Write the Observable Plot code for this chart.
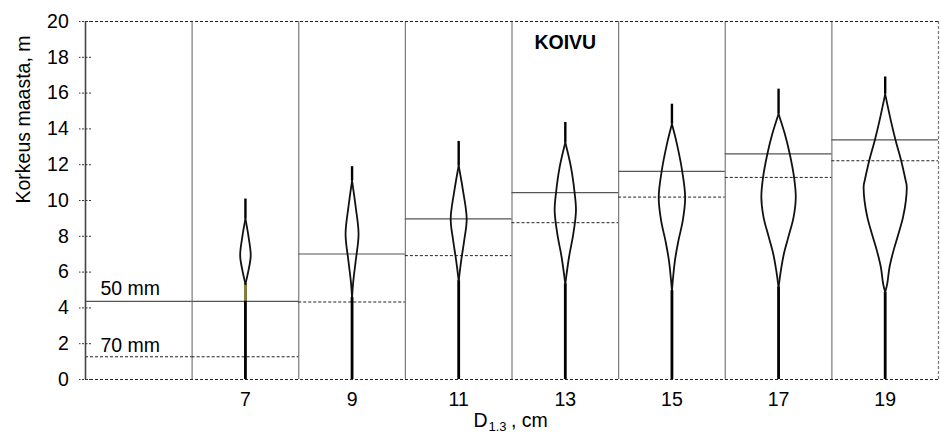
<!DOCTYPE html>
<html>
<head>
<meta charset="utf-8">
<script src="https://cdn.jsdelivr.net/npm/d3@7"></script>
<script src="https://cdn.jsdelivr.net/npm/@observablehq/plot@0.6"></script>
<style>
  html, body { margin: 0; padding: 0; background: #fff; }
  #chart svg { display: block; }
</style>
</head>
<body>
<div id="chart"></div>
<script>
// ---- data ----
const diam = [7, 9, 11, 13, 15, 17, 19];               // D1.3, cm (tree positions)
const treeTop = [10.08, 11.89, 13.3, 14.36, 15.38, 16.22, 16.9]; // tree height, m
// crown outline: heights (m) from crown top down to crown base, and half-width (x units)
const crownH = [
  [8.97, 7.94, 6.92, 6.08, 5.34],
  [11.1, 9.62, 8.13, 6.64, 5.52, 4.59],
  [11.94, 10.55, 8.97, 7.76, 6.64, 5.52],
  [13.24, 11.85, 10.44, 9.43, 8.13, 6.83, 5.34],
  [14.27, 13.15, 11.63, 10.17, 8.87, 7.76, 6.64, 4.97],
  [14.83, 13.71, 12.6, 11.29, 10.17, 9.06, 7.94, 7.01, 6.08, 5.15],
  [15.94, 14.45, 13.34, 12.22, 11.1, 10.83, 9.99, 9.06, 8.13, 7.2, 6.27, 5.34, 4.87]
];
const crownR = [
  [0, 0.060, 0.099, 0.056, 0],
  [0, 0.069, 0.122, 0.069, 0.024, 0],
  [0, 0.081, 0.15, 0.103, 0.047, 0],
  [0, 0.107, 0.174, 0.2, 0.15, 0.069, 0],
  [0, 0.094, 0.193, 0.248, 0.203, 0.122, 0.056, 0],
  [0, 0.118, 0.21, 0.291, 0.323, 0.281, 0.182, 0.099, 0.043, 0],
  [0, 0.107, 0.197, 0.3, 0.385, 0.403, 0.388, 0.334, 0.248, 0.156, 0.081, 0.038, 0]
];
// coloured stem segment (tree 7)
const oliveD = [7];
const oliveY1 = [4.37];
const oliveY2 = [5.34];
// diameter classes (panels) and top-log limits
const panelStart = [4, 6, 8, 10, 12, 14, 16, 18];
const panelEnd   = [6, 8, 10, 12, 14, 16, 18, 20];
const line50 = [4.37, 4.37, 7.01, 8.97, 10.44, 11.63, 12.6, 13.39]; // 50 mm
const line70 = [1.27, 1.27, 4.33, 6.92, 8.76, 10.19, 11.29, 12.22]; // 70 mm
const panelLines = [6, 8, 10, 12, 14, 16, 18];
const yTicks = [0, 2, 4, 6, 8, 10, 12, 14, 16, 18, 20];
const xTicks = [7, 9, 11, 13, 15, 17, 19];

// ---- tables built from the arrays ----
const trees = diam.map((d, i) => ({
  d, top: treeTop[i], ctop: crownH[i][0], base: crownH[i][crownH[i].length - 1]
}));
const crownPts = [];
diam.forEach((d, i) => {
  for (const side of [-1, 1]) {
    crownH[i].forEach((h, j) => {
      crownPts.push({key: d + "_" + side, x: d + side * crownR[i][j], h});
    });
  }
});
const olive = oliveD.map((d, i) => ({d, y1: oliveY1[i], y2: oliveY2[i]}));
const panels = panelStart.map((s, i) => ({x1: s, x2: panelEnd[i], y50: line50[i], y70: line70[i]}));

const FS = 19.5;
const chart = Plot.plot({
  width: 941,
  height: 436,
  marginLeft: 85,
  marginRight: 3,
  marginTop: 21,
  marginBottom: 57,
  x: {domain: [4, 20]},
  y: {domain: [0, 20]},
  style: {fontFamily: "'Liberation Sans', Arial, sans-serif", fontSize: FS + "px", color: "#000", background: "#fff"},
  marks: [
    // panel separators
    Plot.ruleX(panelLines, {stroke: "#7a7a7a", strokeWidth: 1.2}),
    // 50 mm and 70 mm limits
    Plot.ruleY(panels, {x1: "x1", x2: "x2", y: "y50", stroke: "#555", strokeWidth: 1.2}),
    Plot.ruleY(panels, {x1: "x1", x2: "x2", y: "y70", stroke: "#222", strokeWidth: 1, strokeDasharray: "3,2"}),
    // frame
    Plot.ruleY([0, 20], {stroke: "#222", strokeWidth: 1, strokeDasharray: "3,2"}),
    Plot.ruleX([4], {stroke: "#444", strokeWidth: 1.6}),
    Plot.ruleX([20], {stroke: "#777", strokeWidth: 1.2, strokeDasharray: "3,2"}),
    // stems and spires
    Plot.ruleX(trees, {x: "d", y1: 0, y2: "base", stroke: "#000", strokeWidth: 2.8}),
    Plot.ruleX(olive, {x: "d", y1: "y1", y2: "y2", stroke: "#8c7f3c", strokeWidth: 2.8}),
    Plot.ruleX(trees, {x: "d", y1: "ctop", y2: "top", stroke: "#000", strokeWidth: 2.4}),
    // crowns
    Plot.line(crownPts, {x: "x", y: "h", z: "key", curve: "catmull-rom", stroke: "#111", strokeWidth: 1.8}),
    // axes
    Plot.axisY({ticks: yTicks, tickSize: 12, dx: 6, tickFormat: () => "", label: null, stroke: "#333", strokeDasharray: "2,1.5"}),
    Plot.axisY({ticks: yTicks, tickSize: 0, tickPadding: 16.7, label: null, fontSize: FS}),
    Plot.axisX({ticks: xTicks, tickSize: 0, tickPadding: 12.5, label: null, fontSize: FS}),
    // annotations
    Plot.text(["50 mm"], {x: 4, y: line50[0], dx: 15, dy: -12.7, textAnchor: "start", fontSize: FS}),
    Plot.text(["70 mm"], {x: 4, y: line70[0], dx: 15, dy: -11, textAnchor: "start", fontSize: FS}),
    Plot.text(["KOIVU"], {x: 13, y: 18.8, fontWeight: "bold", fontSize: FS}),
    Plot.text(["Korkeus maasta, m"], {frameAnchor: "left", y: 10, dx: -62, dy: 3, rotate: -90, fontSize: FS}),
    Plot.text(["D"], {x: 12, frameAnchor: "bottom", dx: -38.4, dy: 47, textAnchor: "start", fontSize: FS}),
    Plot.text(["1.3"], {x: 12, frameAnchor: "bottom", dx: -23.5, dy: 51.4, textAnchor: "start", fontSize: 13}),
    Plot.text([", cm"], {x: 12, frameAnchor: "bottom", dx: -1, dy: 47, textAnchor: "start", fontSize: FS})
  ]
});
document.getElementById("chart").appendChild(chart);
</script>
</body>
</html>
